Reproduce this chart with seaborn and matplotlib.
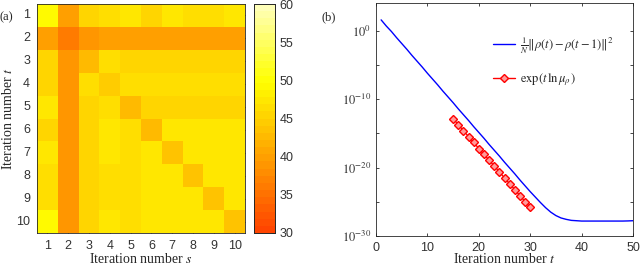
import numpy as np
import pandas as pd
import matplotlib
matplotlib.use("Agg")
import matplotlib.pyplot as plt
import seaborn as sns
from matplotlib.colors import LinearSegmentedColormap, ListedColormap

# ---------------- data ----------------
iters = [1, 2, 3, 4, 5, 6, 7, 8, 9, 10]
overlap = [
    [49.5, 39.5, 45.0, 46.0, 47.0, 45.0, 47.5, 46.5, 46.0, 47.5],
    [39.5, 36.0, 38.5, 39.5, 39.5, 39.5, 39.5, 39.5, 39.5, 39.5],
    [45.0, 38.5, 43.0, 46.0, 45.0, 45.0, 45.0, 45.0, 45.0, 45.0],
    [45.5, 39.0, 46.5, 44.5, 46.0, 46.5, 46.5, 46.0, 46.0, 46.5],
    [47.0, 39.0, 45.5, 46.0, 43.0, 45.5, 45.5, 45.5, 45.5, 45.5],
    [45.0, 39.0, 45.5, 47.0, 46.0, 43.0, 47.0, 47.0, 47.0, 47.0],
    [47.0, 39.0, 45.5, 47.0, 46.0, 47.0, 43.5, 47.0, 47.0, 47.0],
    [46.0, 39.0, 45.5, 46.0, 46.0, 47.0, 47.0, 44.0, 47.0, 47.0],
    [46.0, 39.0, 45.5, 46.0, 46.0, 47.0, 47.0, 47.0, 44.0, 47.0],
    [49.0, 39.0, 45.5, 47.5, 46.5, 47.0, 47.0, 47.0, 47.0, 44.0],
]

t_blue = list(range(1, 51))
log_blue = [1.6, 0.7, -0.1, -1.0, -1.85, -2.7, -3.6, -4.45, -5.3, -6.2,
            -7.05, -7.9, -8.8, -9.65, -10.5, -11.4, -12.25, -13.1, -14.0, -14.85,
            -15.7, -16.6, -17.45, -18.3, -19.2, -20.05, -20.9, -21.8, -22.65, -23.5,
            -24.3, -25.1, -25.85, -26.5, -27.0, -27.35, -27.55, -27.7, -27.75, -27.8,
            -27.8, -27.8, -27.8, -27.8, -27.8, -27.8, -27.8, -27.8, -27.78, -27.75]
t_red = list(range(15, 31))
log_red = [-12.85, -13.7, -14.6, -15.45, -16.3, -17.2, -18.05, -18.9,
           -19.75, -20.6, -21.5, -22.35, -23.2, -24.1, -24.95, -25.8]

heat_df = pd.DataFrame(overlap, index=iters, columns=iters)
line_df = pd.DataFrame({"t": t_blue, "v": np.power(10.0, log_blue)})
red_df = pd.DataFrame({"t": t_red, "v": np.power(10.0, log_red)})

# ---------------- style ----------------
sns.set_style("ticks")
plt.rcParams["font.family"] = ["Liberation Sans", "DejaVu Sans"]
plt.rcParams["mathtext.fontset"] = "stix"
serif = ["Liberation Serif", "DejaVu Serif"]
edge = "#262626"
tcol = "#333333"

base = LinearSegmentedColormap.from_list(
    "hotpart", [(0.0, (1.0, 0.27, 0.0)), (2 / 3, (1.0, 1.0, 0.0)), (1.0, (1.0, 1.0, 0.72))])
cmap = ListedColormap(base(np.linspace(0, 1, 32)))

fig = plt.figure(figsize=(6.4, 2.65), dpi=100)
ax1 = fig.add_axes([0.0578, 0.1208, 0.325, 0.864])
cax = fig.add_axes([0.397, 0.1208, 0.033, 0.864])
ax2 = fig.add_axes([0.5875, 0.109, 0.4016, 0.878])

# ---------------- (a) heatmap ----------------
sns.heatmap(heat_df, ax=ax1, cbar_ax=cax, cmap=cmap, vmin=30, vmax=60,
            cbar_kws={"ticks": [30, 35, 40, 45, 50, 55, 60]})
ax1.tick_params(axis="both", direction="in", length=2.5, width=0.6, color=edge,
                top=True, right=True, labelsize=9, pad=5, labelcolor=tcol)
ax1.set_yticklabels([str(i) for i in iters], rotation=0)
ax1.set_xticklabels([str(i) for i in iters], rotation=0)
for s in ax1.spines.values():
    s.set_visible(True)
    s.set_color(edge)
    s.set_linewidth(0.6)
ax1.set_xlabel("Iteration number $s$", family=serif, fontsize=10)
ax1.set_ylabel("Iteration number $t$", family=serif, fontsize=10)
ax1.yaxis.set_label_coords(-0.107, 0.5)
ax1.xaxis.set_label_coords(0.5, -0.083)
cax.tick_params(direction="in", length=2.5, width=0.6, color=edge, labelsize=9,
                labelcolor=tcol, pad=3)
for s in cax.spines.values():
    s.set_visible(True)
    s.set_color(edge)
    s.set_linewidth(0.6)
fig.text(0.0, 0.925, "(a)", family=serif, fontsize=9)

# ---------------- (b) convergence ----------------
sns.lineplot(data=line_df, x="t", y="v", ax=ax2, color="blue", lw=1.0,
             label=r"$\frac{1}{N}\Vert\rho(t)-\rho(t-1)\Vert^2$")
sns.lineplot(data=red_df, x="t", y="v", ax=ax2, color="red", lw=1.0,
             marker="D", markersize=4.0, markerfacecolor="#ff9a9a",
             markeredgecolor="red", markeredgewidth=1.0,
             label=r"$\exp(t\,\ln\mu_\rho)$")
ax2.set_yscale("log")
ax2.set_xlim(0, 50)
ax2.set_ylim(1e-30, 1e4)
ax2.set_xticks([0, 10, 20, 30, 40, 50])
ax2.set_yticks([1e-30, 1e-20, 1e-10, 1e0])
ax2.set_yticklabels([r"$10^{-30}$", r"$10^{-20}$", r"$10^{-10}$", r"$10^{0}$"])
ax2.set_yticks([1e-25, 1e-15, 1e-5], minor=True)
ax2.tick_params(axis="both", which="both", direction="in", length=2.5, width=0.6,
                color=edge, top=True, right=True, labelsize=9, labelcolor=tcol)
ax2.tick_params(axis="y", which="minor", labelleft=False)
ax2.tick_params(axis="x", pad=4)
for s in ax2.spines.values():
    s.set_visible(True)
    s.set_color(edge)
    s.set_linewidth(0.6)
ax2.set_xlabel("Iteration number $t$", family=serif, fontsize=10)
ax2.xaxis.set_label_coords(0.5, -0.07)
ax2.set_ylabel("")
leg = ax2.legend(loc="upper left", bbox_to_anchor=(0.43, 0.89), frameon=False,
                 fontsize=9, handlelength=1.8, labelspacing=1.2, borderpad=0,
                 handletextpad=0.4)
fig.text(0.503, 0.925, "(b)", family=serif, fontsize=9)

fig.savefig("out.png", dpi=100)
